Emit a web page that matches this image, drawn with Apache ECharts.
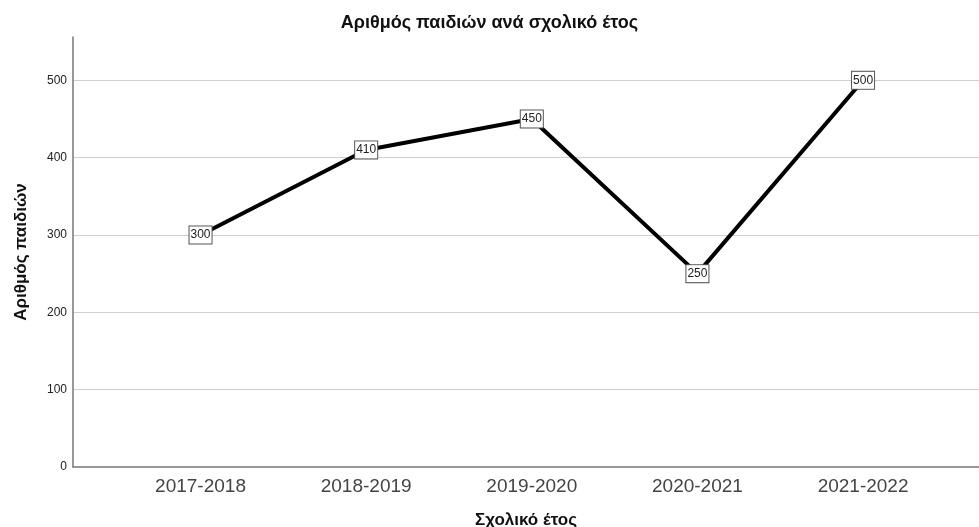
<!DOCTYPE html>
<html>
<head>
<meta charset="utf-8">
<script src="https://cdn.jsdelivr.net/npm/echarts@6/dist/echarts.min.js"></script>
<style>
  html, body { margin: 0; padding: 0; background: #fff; }
  #chart { width: 979px; height: 527px; }
</style>
</head>
<body>
<div id="chart"></div>
<script>
const years = ['2017-2018', '2018-2019', '2019-2020', '2020-2021', '2021-2022']
const children = [300, 410, 450, 250, 500]
const yTicks = [0, 100, 200, 300, 400, 500]

const chart = echarts.init(document.getElementById('chart'))

// x is a value axis over the category index so the first point sits away from the y axis
const points = children.map((v, i) => [i, v])

function yearLabel(v) {
  const i = Math.round(v)
  if (Math.abs(v - i) > 1e-6) return ''
  return years[i] ?? ''
}

chart.setOption({
  animation: false,
  title: {
    text: 'Αριθμός παιδιών ανά σχολικό έτος',
    left: 'center',
    top: 9,
    textStyle: { fontFamily: 'Liberation Sans', fontSize: 18, fontWeight: 'bold', color: '#111' },
  },
  grid: { left: 73, right: 0, top: 37, bottom: 60, outerBoundsMode: 'none' },
  xAxis: {
    type: 'value',
    min: -0.77,
    max: 4.7,
    interval: 0.01,
    name: 'Σχολικό έτος',
    nameLocation: 'middle',
    nameGap: 45,
    nameTextStyle: { fontFamily: 'Liberation Sans', fontSize: 17, fontWeight: 'bold', color: '#111' },
    axisLine: { show: true, onZero: false, lineStyle: { color: '#777', width: 1.5 } },
    axisTick: { show: false },
    splitLine: { show: false },
    axisLabel: {
      margin: 10,
      fontFamily: 'Liberation Sans',
      fontSize: 19,
      color: '#444',
      formatter: yearLabel,
    },
  },
  yAxis: {
    type: 'value',
    min: 0,
    max: 556,
    interval: 100,
    name: 'Αριθμός παιδιών',
    nameLocation: 'middle',
    nameGap: 43,
    nameTextStyle: { fontFamily: 'Liberation Sans', fontSize: 17, fontWeight: 'bold', color: '#111' },
    axisLine: { show: true, onZero: false, lineStyle: { color: '#777', width: 1.5 } },
    axisTick: { show: false },
    splitLine: { show: true, showMinLine: false, showMaxLine: false, lineStyle: { color: '#cfcfcf', width: 1 } },
    axisLabel: {
      margin: 6,
      fontFamily: 'Liberation Sans',
      fontSize: 12,
      color: '#222',
      formatter: v => (yTicks.includes(v) ? String(v) : ''),
    },
  },
  series: [{
    type: 'line',
    data: points,
    symbol: 'circle',
    symbolSize: 1,
    itemStyle: { color: '#000' },
    lineStyle: { color: '#000', width: 4 },
    label: {
      show: true,
      position: 'inside',
      formatter: p => String(p.value[1]),
      fontFamily: 'Liberation Sans',
      fontSize: 12,
      color: '#222',
      backgroundColor: '#fff',
      borderColor: '#555',
      borderWidth: 1,
      padding: [3, 1, 2, 1],
    },
  }],
})
</script>
</body>
</html>
